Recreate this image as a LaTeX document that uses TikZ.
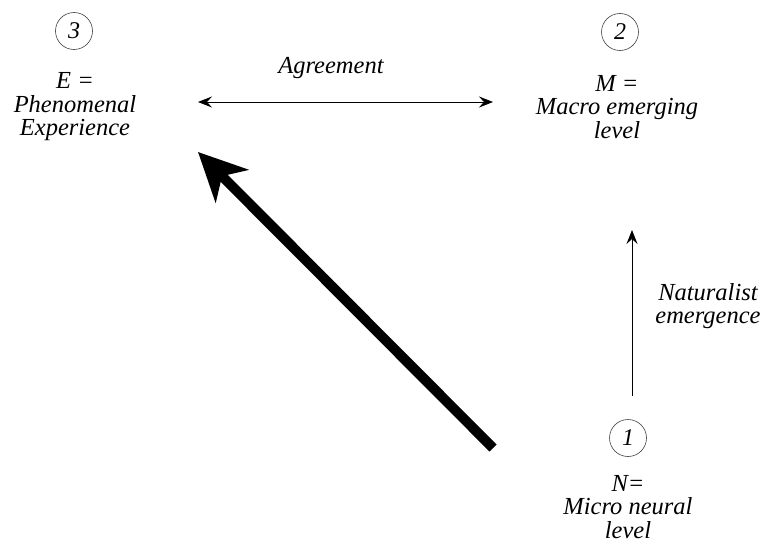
\documentclass[tikz,border=0pt]{standalone}
\usepackage{fontspec}
\setmainfont{Liberation Serif}
\usetikzlibrary{arrows.meta}
\begin{document}
\begin{tikzpicture}[x=1pt,y=-1pt,
  lbl/.style={font=\fontsize{24.5}{23.5}\selectfont\itshape, align=center, inner sep=0pt},
  num/.style={circle, draw=black!75, line width=0.6pt, minimum size=37pt, inner sep=0pt, font=\fontsize{24}{24}\selectfont\itshape},
  thin/.style={line width=0.8pt, -{Stealth[length=14pt,width=11pt,inset=5pt]}},
  thick/.style={line width=10pt, -{Stealth[length=48pt,width=46pt,inset=14pt]}}]
\useasboundingbox (0,0) rectangle (763,546);
\node[num] (c3) at (74,31) {3};
\node[num] (c2) at (620,32) {2};
\node[num] (c1) at (628,438) {1};
\node[lbl] (E) at (75,107) {E =\\Phenomenal\\Experience};
\node[lbl] (M) at (617,107) {M =\\Macro emerging\\level};
\node[lbl] (N) at (628,507) {N=\\Micro neural\\level};
\node[lbl] (agr) at (331,68) {Agreement};
\node[lbl] (nat) at (708,306) {Naturalist\\emergence};
\coordinate (a1) at (198,102);
\coordinate (a2) at (493,102);
\draw[thin, {Stealth[length=14pt,width=11pt,inset=5pt]}-{Stealth[length=14pt,width=11pt,inset=5pt]}] (a1) -- (a2);
\coordinate (v1) at (632,396);
\coordinate (v2) at (632,230);
\draw[thin] (v1) -- (v2);
\coordinate (t1) at (493,448);
\coordinate (t2) at (198,152);
\draw[thick] (t1) -- (t2);
\end{tikzpicture}
\end{document}
